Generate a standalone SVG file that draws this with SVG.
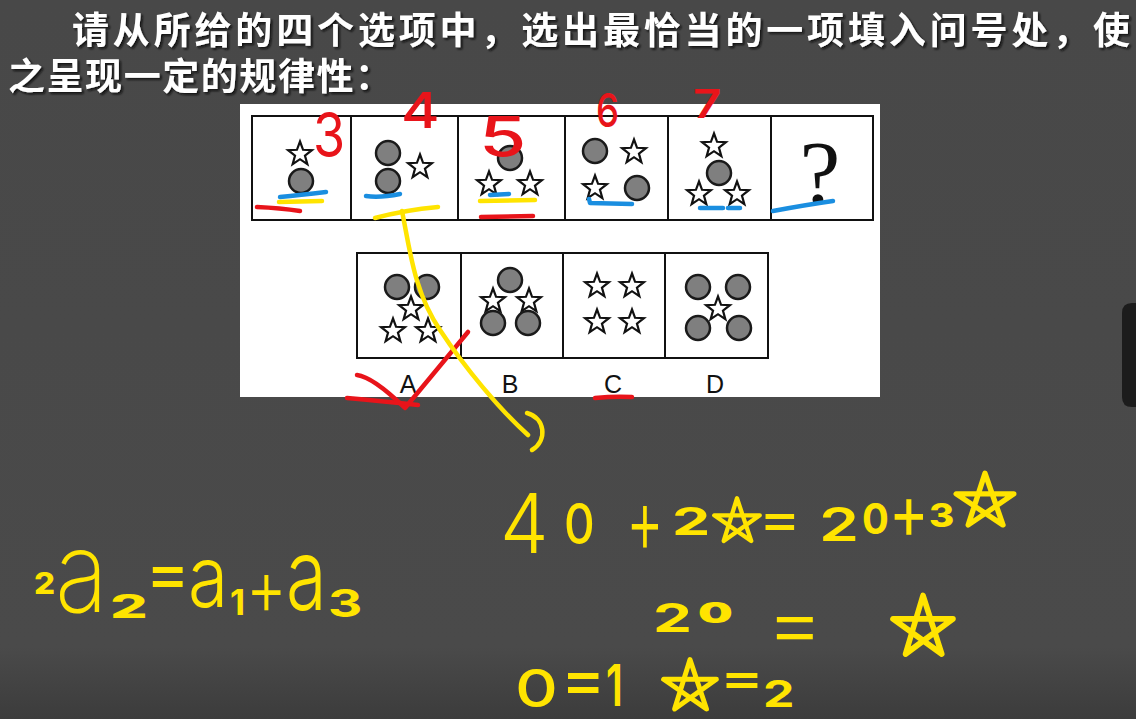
<svg xmlns="http://www.w3.org/2000/svg" xmlns:xlink="http://www.w3.org/1999/xlink" width="1136" height="719" viewBox="0 0 1136 719">
<defs>
<linearGradient id="bg" x1="0" y1="0" x2="0" y2="1">
<stop offset="0" stop-color="#484848"/>
<stop offset="0.9" stop-color="#4a4a4a"/>
<stop offset="1" stop-color="#3c3c3c"/>
</linearGradient>
<filter id="sh" x="-5%" y="-20%" width="110%" height="140%">
<feDropShadow dx="2" dy="2" stdDeviation="1" flood-color="#111" flood-opacity="0.9"/>
</filter>
<path id="star" d="M0,-12.5 L3.06,-4.21 L11.89,-3.86 L4.95,1.61 L7.35,10.11 L0,5.2 L-7.35,10.11 L-4.95,1.61 L-11.89,-3.86 L-3.06,-4.21 Z"/>
<circle id="dot" r="12"/>
<path id="hstar" d="M-14,20 L0,-25 L15,20 L-24,-7 L24,-7 Z"/>
</defs>
<style>
.title{font-family:"Noto Sans CJK SC","Noto Sans",sans-serif;font-weight:bold;font-size:37px;fill:#ffffff}
.box{fill:none;stroke:#111;stroke-width:2}
.st{fill:#fff;stroke:#111;stroke-width:2.2;stroke-linejoin:miter}
.ci{fill:#7f7f7f;stroke:#1a1a1a;stroke-width:2.5}
.lab{font-family:"Liberation Sans",Arial,sans-serif;font-size:25px;fill:#111;text-anchor:middle}
.red{font-family:Inter,Lato,"Liberation Sans",sans-serif;fill:#e8141a}
.yel{font-family:Inter,Lato,"Liberation Sans",sans-serif;fill:#ffe400}
.rl{fill:none;stroke:#e8141a;stroke-width:4.5;stroke-linecap:round;stroke-linejoin:round}
.bl{fill:none;stroke:#1a8ee0;stroke-width:4.5;stroke-linecap:round;stroke-linejoin:round}
.yl{fill:none;stroke:#ffe400;stroke-width:4.5;stroke-linecap:round;stroke-linejoin:round}
.hs{fill:none;stroke:#ffe400;stroke-width:4.5;stroke-linejoin:round}
</style>
<rect width="1136" height="719" fill="url(#bg)"/>
<path d="M1136,303 L1132,303 Q1122,303 1122,313 L1122,397 Q1122,407 1132,407 L1136,407 Z" fill="#1c1c1c"/>

<g id="title" filter="url(#sh)">
<text class="title" x="72" y="44" textLength="1058" lengthAdjust="spacing">请从所给的四个选项中，选出最恰当的一项填入问号处，使</text>
<text class="title" x="8" y="90" textLength="384" lengthAdjust="spacing">之呈现一定的规律性：</text>
</g>

<g id="panel">
<rect x="240" y="104" width="640" height="293" fill="#ffffff"/>
</g>

<g id="question-row">
<rect class="box" x="252" y="116" width="621" height="104"/>
<path class="box" d="M351,116 V220 M458,116 V220 M565,116 V220 M668,116 V220 M771,116 V220"/>
<g id="q1">
<use href="#star" class="st" x="300" y="154"/>
<use href="#dot" class="ci" x="301" y="181"/>
</g>
<g id="q2">
<use href="#dot" class="ci" x="388" y="153"/>
<use href="#dot" class="ci" x="388" y="181"/>
<use href="#star" class="st" x="420" y="167"/>
</g>
<g id="q3">
<use href="#dot" class="ci" x="510" y="158"/>
<use href="#star" class="st" x="489" y="184"/>
<use href="#star" class="st" x="530" y="184"/>
</g>
<g id="q4">
<use href="#dot" class="ci" x="595" y="151"/>
<use href="#star" class="st" x="634" y="152"/>
<use href="#star" class="st" x="595" y="188"/>
<use href="#dot" class="ci" x="637" y="188"/>
</g>
<g id="q5">
<use href="#star" class="st" x="714" y="146"/>
<use href="#dot" class="ci" x="719" y="173"/>
<use href="#star" class="st" x="699" y="194"/>
<use href="#star" class="st" x="737" y="194"/>
</g>
<g id="q6">
<text x="820" y="204" font-family="Liberation Serif,serif" font-size="92" fill="#111" text-anchor="middle">?</text>
</g>
</g>

<g id="options-row">
<rect class="box" x="357" y="253" width="411" height="105"/>
<path class="box" d="M461,253 V358 M563,253 V358 M665,253 V358"/>
<g id="optA">
<use href="#dot" class="ci" x="397" y="287"/>
<use href="#dot" class="ci" x="427" y="287"/>
<use href="#star" class="st" x="411" y="309"/>
<use href="#star" class="st" x="393" y="331"/>
<use href="#star" class="st" x="428" y="331"/>
<text class="lab" x="408" y="393">A</text>
</g>
<g id="optB">
<use href="#dot" class="ci" x="510" y="280"/>
<use href="#star" class="st" x="493" y="301"/>
<use href="#star" class="st" x="529" y="301"/>
<use href="#dot" class="ci" x="493" y="323"/>
<use href="#dot" class="ci" x="528" y="323"/>
<text class="lab" x="510" y="393">B</text>
</g>
<g id="optC">
<use href="#star" class="st" x="597" y="286"/>
<use href="#star" class="st" x="632" y="286"/>
<use href="#star" class="st" x="597" y="322"/>
<use href="#star" class="st" x="632" y="322"/>
<text class="lab" x="613" y="393">C</text>
</g>
<g id="optD">
<use href="#dot" class="ci" x="698" y="287"/>
<use href="#dot" class="ci" x="738" y="287"/>
<use href="#star" class="st" x="718" y="309"/>
<use href="#dot" class="ci" x="698" y="328"/>
<use href="#dot" class="ci" x="739" y="328"/>
<text class="lab" x="715" y="393">D</text>
</g>
</g>

<g id="annotation-strokes">
<path class="rl" d="M257,207 Q280,208 300,211"/>
<path class="bl" d="M280,197 Q300,195 326,192"/>
<path class="yl" d="M279,202 L322,201"/>
<path class="bl" d="M366,196 Q380,198 400,194"/>
<path class="yl" d="M375,218 Q405,210 438,207"/>
<path class="bl" d="M490,195 L509,194"/>
<path class="yl" d="M480,201 L535,200"/>
<path class="rl" d="M481,217 L533,216" stroke-width="6"/>
<path class="bl" d="M589,199 L590,203 L632,204"/>
<path class="bl" d="M700,208 L723,208 M728,208 L740,208"/>
<path class="bl" d="M773,211 Q805,205 833,201"/>
<path class="rl" d="M595,398 Q615,396 632,397"/>
<path class="rl" d="M357,375 Q373,377 405,408 L468,332"/>
<path class="rl" d="M347,398 Q380,401 418,405"/>
<path class="yl" d="M402,211 C410,250 414,292 440,330 C465,368 500,410 528,435"/>
<path class="yl" d="M527,413 C545,418 548,440 532,450"/>
</g>

<g id="red-numbers">
<text class="red" font-size="62" font-weight="400" transform="translate(313,157) scale(0.84,1)">3</text>
<text class="red" font-size="49" font-weight="500" transform="translate(401,128) scale(1.2,1)">4</text>
<text class="red" font-size="56" font-weight="450" transform="translate(479,157) scale(1.37,1)">5</text>
<text class="red" font-size="47" font-weight="500" transform="translate(596,127) scale(0.78,1)">6</text>
<text class="red" font-size="40" font-weight="600" transform="translate(693,118) scale(1.23,1)">7</text>
</g>

<g id="equation1">
<text class="yel" font-size="83" font-weight="350" transform="translate(500,553) scale(0.93,1)">4</text>
<text class="yel" font-size="56" font-weight="500" transform="translate(564,544) scale(0.85,1)">0</text>
<text class="yel" font-size="92" font-weight="300" transform="translate(626,553) scale(0.63,1)">+</text>
<text class="yel" font-size="38" font-weight="700" transform="translate(672,535) scale(1.6,1)">2</text>
<use href="#hstar" class="hs" transform="translate(737,522) scale(0.95)"/>
<text class="yel" font-size="52" font-weight="500" transform="translate(759,537) scale(1.2,1)">=</text>
<text class="yel" font-size="46" font-weight="600" transform="translate(819,541) scale(1.4,1)">2</text>
<text class="yel" font-size="42" font-weight="650" transform="translate(862,534) scale(0.95,1)">0</text>
<text class="yel" font-size="75" font-weight="400" transform="translate(889,538) scale(0.8,1)">+</text>
<text class="yel" font-size="32" font-weight="800" transform="translate(929,527) scale(1.2,1)">3</text>
<use href="#hstar" class="hs" transform="translate(985,502) scale(1.2,1.15)"/>
</g>

<g id="equation2">
<text class="yel" font-size="30" font-weight="800" transform="translate(34,594) scale(1.1,1)">2</text>
<text class="yel" font-size="112" font-weight="250" transform="translate(55,612) scale(0.88,1)">a</text>
<text class="yel" font-size="32" font-weight="800" transform="translate(110,618) scale(1.85,1)">2</text>
<text class="yel" font-size="62" font-weight="450" transform="translate(146,595) scale(1.05,1)">=</text>
<text class="yel" font-size="85" font-weight="350" transform="translate(188,607) scale(0.86,1)">a</text>
<text class="yel" font-size="35" font-weight="750" transform="translate(230,615) scale(1,1)">1</text>
<text class="yel" font-size="78" font-weight="350" transform="translate(246,615) scale(0.8,1)">+</text>
<text class="yel" font-size="100" font-weight="300" transform="translate(286,610) scale(0.74,1)">a</text>
<text class="yel" font-size="38" font-weight="700" transform="translate(328,617) scale(1.4,1)">3</text>
</g>

<g id="equation3">
<text class="yel" font-size="40" font-weight="700" transform="translate(653,632) scale(1.55,1)">2</text>
<text class="yel" font-size="28" font-weight="900" transform="translate(698,623) scale(1.75,1)">0</text>
<text class="yel" font-size="84" font-weight="350" transform="translate(766,652) scale(1.05,1)">=</text>
<use href="#hstar" class="hs" transform="translate(923,628) scale(1.25,1.3)"/>
</g>

<g id="equation4">
<text class="yel" font-size="52" font-weight="550" transform="translate(515,707) scale(1.28,1)">0</text>
<text class="yel" font-size="64" font-weight="450" transform="translate(561,701) scale(1.04,1)">=</text>
<text class="yel" font-size="50" font-weight="600" transform="translate(606,706) scale(0.8,1.15)">1</text>
<use href="#hstar" class="hs" transform="translate(690,687) scale(1.1)"/>
<text class="yel" font-size="46" font-weight="600" transform="translate(720,694) scale(1.42,1)">=</text>
<text class="yel" font-size="37" font-weight="700" transform="translate(763,707) scale(1.35,1)">2</text>
</g>
</svg>
